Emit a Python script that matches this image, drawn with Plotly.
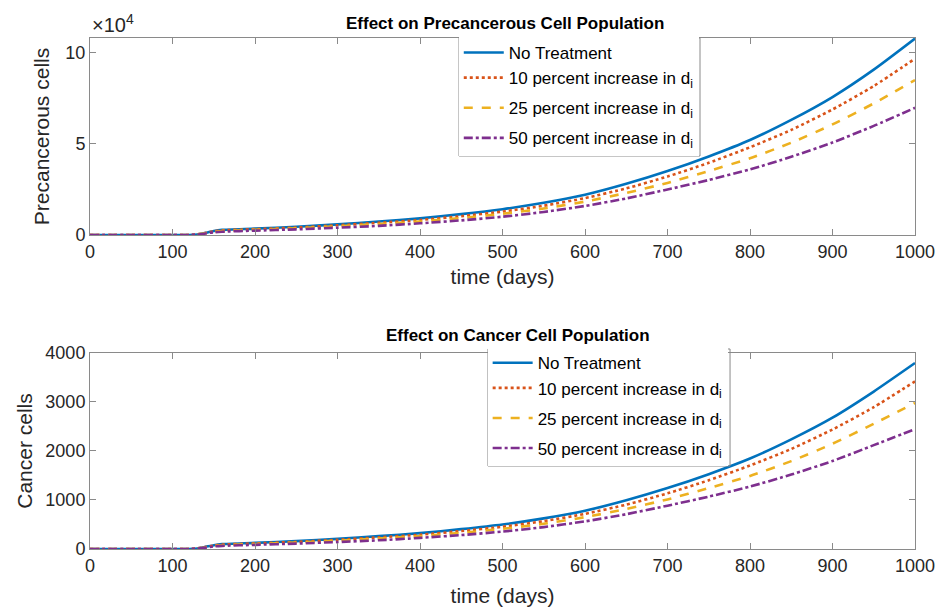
import plotly.graph_objects as go

# ---------------- data ----------------
t_days = [0, 50, 100, 120, 130, 140, 150, 160, 200, 250, 300, 350, 400, 450,
          500, 550, 600, 650, 700, 750, 800, 850, 900, 950, 1000]

pre_none = [0, 0, 0, 0, 300, 1200, 2200, 2800, 3500, 4500, 5800, 7400, 9100, 11400,
            14100, 17600, 22000, 28000, 35000, 43000, 52000, 63000, 75500, 90500, 107500]
pre_10 = [0, 0, 0, 0, 300, 1100, 2000, 2500, 3200, 4100, 5300, 6700, 8200, 10300,
          12800, 16000, 20200, 25500, 32000, 39500, 48000, 57500, 68700, 81500, 96500]
pre_25 = [0, 0, 0, 0, 300, 1000, 1800, 2200, 2900, 3700, 4800, 6000, 7400, 9300,
          11600, 14500, 18300, 23000, 28500, 35000, 42000, 50500, 60500, 72000, 84800]
pre_50 = [0, 0, 0, 0, 200, 800, 1500, 1800, 2400, 3100, 4000, 5000, 6400, 8000,
          10000, 12600, 15900, 20000, 24900, 30100, 35900, 42800, 50600, 59700, 69600]

can_none = [0, 0, 0, 0, 10, 43, 78, 99, 124, 160, 206, 262, 323, 405,
            500, 625, 781, 994, 1243, 1527, 1846, 2237, 2680, 3213, 3795]
can_10 = [0, 0, 0, 0, 11, 39, 71, 89, 114, 146, 188, 238, 291, 366,
          454, 568, 717, 905, 1136, 1402, 1704, 2041, 2439, 2893, 3420]
can_25 = [0, 0, 0, 0, 11, 36, 64, 78, 103, 131, 170, 213, 263, 330,
          412, 515, 650, 817, 1012, 1243, 1491, 1793, 2148, 2556, 2980]
can_50 = [0, 0, 0, 0, 7, 28, 53, 64, 85, 110, 142, 178, 227, 284,
          355, 447, 564, 710, 884, 1069, 1274, 1519, 1796, 2119, 2445]

series_names = ["No Treatment",
                "10 percent increase in d<sub>i</sub>",
                "25 percent increase in d<sub>i</sub>",
                "50 percent increase in d<sub>i</sub>"]
colors = ["#0072BD", "#D95319", "#EDB120", "#7E2F8E"]
dashes = ["solid", "dot", "dash", "dashdot"]
groups = ["g1", "g1", "g3", "g4"]

x_ticks = [0, 100, 200, 300, 400, 500, 600, 700, 800, 900, 1000]
pre_tickvals = [0, 50000, 100000]
pre_ticktext = ["0", "5", "10"]
can_tickvals = [0, 1000, 2000, 3000, 4000]

# ---------------- figure ----------------
FONT = "Liberation Sans, Arial, sans-serif"
fig = go.Figure()

top_series = [pre_none, pre_10, pre_25, pre_50]
bot_series = [can_none, can_10, can_25, can_50]

for i in range(4):
    fig.add_trace(go.Scatter(
        x=t_days, y=top_series[i], mode="lines", name=series_names[i],
        legendgroup="top" + groups[i],
        line=dict(color=colors[i], width=2.6, dash=dashes[i], shape="spline", smoothing=0.6),
        xaxis="x", yaxis="y", legend="legend"))
for i in range(4):
    fig.add_trace(go.Scatter(
        x=t_days, y=bot_series[i], mode="lines", name=series_names[i],
        legendgroup="bot" + groups[i],
        line=dict(color=colors[i], width=2.6, dash=dashes[i], shape="spline", smoothing=0.6),
        xaxis="x2", yaxis="y2", legend="legend2"))

axis_common = dict(
    showline=True, linecolor="#8a8a8a", linewidth=1, mirror="ticks",
    ticks="inside", ticklen=6, tickcolor="#8a8a8a", tickwidth=1,
    showgrid=False, zeroline=False, automargin=False,
    tickfont=dict(family=FONT, size=18, color="#262626"),
)
title_font = dict(family=FONT, size=21, color="#262626")

top_dom = [0.6145, 1.0]
bot_dom = [0.0, 0.3836]
BOX = "#8a8a8a"

fig.update_layout(
    width=939, height=601,
    margin=dict(l=82, r=32, t=30, b=60),
    paper_bgcolor="white", plot_bgcolor="white",
    font=dict(family=FONT, color="#262626"),
    xaxis=dict(domain=[0, 1], anchor="y", range=[0, 1000], tickvals=x_ticks,
               title=dict(text="time (days)", font=title_font, standoff=8),
               **axis_common),
    yaxis=dict(domain=top_dom, anchor="x", range=[0, 107800], tickvals=pre_tickvals,
               ticktext=pre_ticktext,
               title=dict(text="Precancerous cells", font=title_font, standoff=10),
               **axis_common),
    xaxis2=dict(domain=[0, 1], anchor="y2", range=[0, 1000], tickvals=x_ticks,
                title=dict(text="time (days)", font=title_font, standoff=13),
                **axis_common),
    yaxis2=dict(domain=bot_dom, anchor="x2", range=[0, 4000], tickvals=can_tickvals,
                title=dict(text="Cancer cells", font=title_font, standoff=6),
                **axis_common),
    legend=dict(x=0.447, y=1.0059, xanchor="left", yanchor="top",
                bgcolor="white", borderwidth=0,
                font=dict(family=FONT, size=17, color="#000000"),
                tracegroupgap=5, itemwidth=40),
    legend2=dict(x=0.482, y=0.3988, xanchor="left", yanchor="top",
                 bgcolor="white", borderwidth=0,
                 font=dict(family=FONT, size=17, color="#000000"),
                 tracegroupgap=5, itemwidth=40),
    shapes=[
        dict(type="rect", xref="paper", yref="paper", x0=0.4473, x1=0.7394, y0=0.7691, y1=1.0,
             line=dict(color=BOX, width=1), fillcolor="rgba(0,0,0,0)", layer="above"),
        dict(type="rect", xref="paper", yref="paper", x0=0.4824, x1=0.7758, y0=0.1624, y1=0.3914,
             line=dict(color=BOX, width=1), fillcolor="rgba(0,0,0,0)", layer="above"),
    ],
    annotations=[
        dict(text="<b>Effect on Precancerous Cell Population</b>", xref="paper", yref="paper",
             x=0.503, y=1.0, yshift=15, xanchor="center", yanchor="middle", showarrow=False,
             font=dict(family=FONT, size=17, color="#000000")),
        dict(text="<b>Effect on Cancer Cell Population</b>", xref="paper", yref="paper",
             x=0.519, y=bot_dom[1], yshift=17, xanchor="center", yanchor="middle",
             showarrow=False, font=dict(family=FONT, size=17, color="#000000")),
        dict(text="×10<sup>4</sup>", xref="paper", yref="paper", x=0.0, y=1.0, yshift=0,
             xanchor="left", yanchor="bottom", showarrow=False,
             font=dict(family=FONT, size=20, color="#262626")),
    ],
)

fig.write_html("out.html")
